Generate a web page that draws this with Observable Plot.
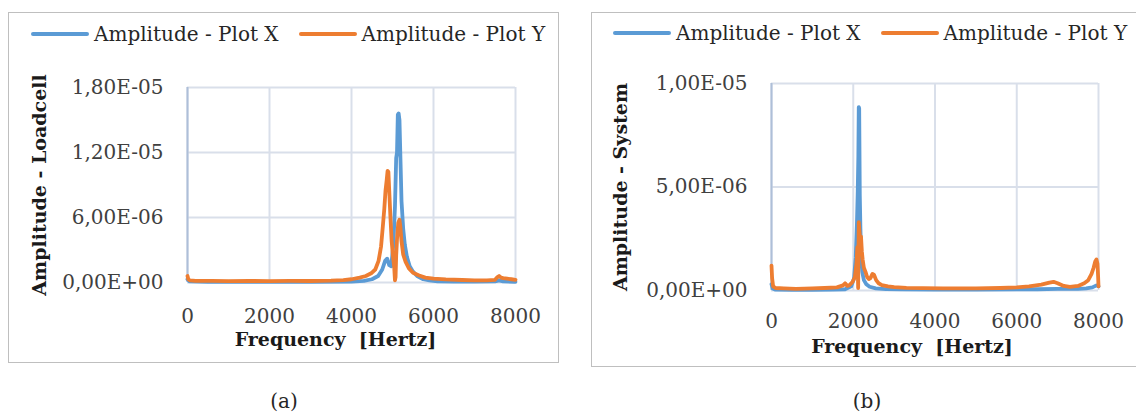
<!DOCTYPE html>
<html>
<head>
<meta charset="utf-8">
<script src="https://cdn.jsdelivr.net/npm/d3@7"></script>
<script src="https://cdn.jsdelivr.net/npm/@observablehq/plot@0.6"></script>
<style>
  html, body { margin:0; padding:0; background:#fff; width:1136px; height:413px; overflow:hidden; }
  body { position:relative; font-family:"DejaVu Serif", serif; }
  .panel { position:absolute; border:1px solid #bfbfbf; box-sizing:border-box; }
  .legend { position:absolute; display:flex; align-items:center; font-size:20px; color:#262626; white-space:nowrap; }
  .sw { display:inline-block; width:58px; height:4px; border-radius:2px; margin-right:5px; }
  .gap { display:inline-block; width:20px; }
  .chart { position:absolute; }
  .cap { position:absolute; font-size:20px; line-height:22px; color:#262626; transform:translate(-50%,-50%); }
</style>
</head>
<body>
<div class="panel" style="left:8px;top:12px;width:551px;height:351px"></div>
<div class="panel" style="left:591px;top:12px;width:560px;height:355px"></div>
<div class="legend" id="legA" style="left:31px;top:22px;"></div>
<div class="legend" id="legB" style="left:613px;top:21px;"></div>
<div class="chart" id="chartA" style="left:8px;top:60px;"></div>
<div class="chart" id="chartB" style="left:591px;top:56px;"></div>
<div class="cap" style="left:284px;top:401px;">(a)</div>
<div class="cap" style="left:867px;top:401px;">(b)</div>
<script>
// ---- data ----
const seriesNames = ["Amplitude - Plot X", "Amplitude - Plot Y"];
const seriesColors = ["#5b9bd5", "#ed7d31"];
const xTicks = [0, 2000, 4000, 6000, 8000];
const yTicksA = [0, 6e-6, 1.2e-5, 1.8e-5];
const yTicksB = [0, 5e-6, 1e-5];

// (a) Loadcell
const aXFreq = [0, 50, 500, 1000, 2000, 3000, 4000, 4300, 4500, 4650, 4750, 4820, 4870, 4920, 4970, 5020, 5060, 5090, 5110, 5130, 5150, 5170, 5190, 5220, 5260, 5300, 5350, 5420, 5500, 5600, 5750, 5900, 6100, 6500, 7000, 7500, 7600, 7700, 8000];
const aXAmp  = [3e-7, 1e-7, 5e-8, 5e-8, 5e-8, 5e-8, 8e-8, 1.5e-7, 3e-7, 6e-7, 1.2e-6, 2.0e-6, 2.2e-6, 1.6e-6, 1.5e-6, 3.5e-6, 7e-6, 1.15e-5, 1.2e-5, 1.55e-5, 1.56e-5, 1.5e-5, 1.2e-5, 7.5e-6, 5e-6, 3.5e-6, 2.4e-6, 1.5e-6, 1e-6, 6e-7, 3e-7, 2e-7, 1e-7, 8e-8, 8e-8, 1e-7, 2e-7, 1e-7, 5e-8];
const aYFreq = [0, 20, 60, 200, 600, 1000, 1500, 2000, 2500, 3000, 3500, 3800, 4000, 4200, 4350, 4480, 4580, 4660, 4720, 4760, 4800, 4830, 4860, 4880, 4900, 4920, 4950, 4980, 5010, 5040, 5060, 5075, 5090, 5110, 5140, 5170, 5190, 5220, 5260, 5320, 5400, 5500, 5650, 5800, 6000, 6300, 6700, 7000, 7300, 7500, 7560, 7600, 7650, 7700, 7800, 7900, 8000];
const aYAmp  = [6e-7, 3e-7, 2e-7, 1.5e-7, 1.5e-7, 1.3e-7, 1.4e-7, 1.3e-7, 1.5e-7, 1.4e-7, 1.7e-7, 2.2e-7, 3e-7, 4.5e-7, 6e-7, 8.5e-7, 1.2e-6, 2e-6, 3.3e-6, 5e-6, 6.8e-6, 8.5e-6, 9.5e-6, 1.03e-5, 1.02e-5, 8.5e-6, 6e-6, 3.8e-6, 2.5e-6, 1.5e-6, 2e-7, 5e-7, 2.5e-6, 4e-6, 5.5e-6, 5.8e-6, 5.2e-6, 3.8e-6, 2.6e-6, 1.9e-6, 1.3e-6, 9e-7, 6.5e-7, 4.5e-7, 3.5e-7, 2.8e-7, 2.3e-7, 2e-7, 2e-7, 2.5e-7, 5e-7, 6e-7, 4.5e-7, 4e-7, 3.5e-7, 3e-7, 2.5e-7];

// (b) System
const bXFreq = [0, 30, 100, 500, 1000, 1500, 1800, 1950, 2020, 2060, 2090, 2110, 2125, 2135, 2145, 2160, 2175, 2195, 2220, 2260, 2320, 2400, 2550, 2800, 3200, 4000, 5000, 6000, 6500, 7000, 7500, 7700, 7850, 7950, 8000];
const bXAmp  = [3e-7, 1e-7, 4e-8, 3e-8, 3e-8, 4e-8, 6e-8, 2e-7, 6e-7, 1.6e-6, 3.2e-6, 4.8e-6, 6.5e-6, 8.86e-6, 8.8e-6, 4.6e-6, 3e-6, 1.6e-6, 9e-7, 5e-7, 3e-7, 1.8e-7, 1e-7, 7e-8, 5e-8, 4e-8, 4e-8, 5e-8, 6e-8, 8e-8, 8e-8, 1e-7, 1.5e-7, 2.5e-7, 2e-7];
const bYFreq = [0, 15, 40, 100, 300, 600, 1000, 1300, 1600, 1750, 1800, 1850, 1900, 1980, 2040, 2080, 2100, 2120, 2135, 2150, 2170, 2190, 2210, 2230, 2260, 2300, 2340, 2380, 2420, 2470, 2510, 2560, 2620, 2700, 2850, 3000, 3300, 3700, 4200, 5000, 5600, 6000, 6300, 6600, 6800, 6900, 7000, 7150, 7300, 7500, 7650, 7750, 7830, 7880, 7920, 7950, 7975, 7990, 8000];
const bYAmp  = [1.2e-6, 6e-7, 2e-7, 1.2e-7, 1e-7, 8e-8, 1e-7, 1.2e-7, 1.5e-7, 2.5e-7, 3.5e-7, 2.2e-7, 2.5e-7, 4e-7, 6.5e-7, 1.3e-6, 2.1e-6, 1.2e-7, 3.3e-6, 2.9e-6, 2.4e-6, 2.6e-6, 1.9e-6, 1.5e-6, 1.1e-6, 9e-7, 6.5e-7, 5.5e-7, 6e-7, 8e-7, 7.5e-7, 5e-7, 3.5e-7, 2.6e-7, 2e-7, 1.6e-7, 1.3e-7, 1.1e-7, 1e-7, 1e-7, 1.2e-7, 1.5e-7, 2e-7, 2.8e-7, 3.8e-7, 4.2e-7, 3.5e-7, 2.2e-7, 1.8e-7, 2.2e-7, 3.5e-7, 5e-7, 8e-7, 1.1e-6, 1.4e-6, 1.5e-6, 1.3e-6, 7e-7, 2e-7];

// ---- helpers ----
function fmtSci(v) {
  if (v === 0) return "0,00E+00";
  const [m, e] = v.toExponential(2).split("e");
  const ei = +e;
  return m.replace(".", ",") + "E" + (ei < 0 ? "-" : "+") + String(Math.abs(ei)).padStart(2, "0");
}
function rows(fs, vs) { return fs.map((f, i) => ({f, v: vs[i]})); }

function legend(el) {
  const node = document.getElementById(el);
  seriesNames.forEach((name, i) => {
    if (i > 0) { const g = document.createElement("span"); g.className = "gap"; node.appendChild(g); }
    const sw = document.createElement("span"); sw.className = "sw"; sw.style.background = seriesColors[i]; node.appendChild(sw);
    const t = document.createElement("span"); t.textContent = name; node.appendChild(t);
  });
}
legend("legA"); legend("legB");

function chart(cfg) {
  return Plot.plot({
    width: cfg.width, height: 300,
    marginLeft: cfg.ml, marginRight: cfg.mr, marginTop: 27, marginBottom: cfg.mb,
    style: {fontFamily: "DejaVu Serif", fontSize: "20px", background: "transparent", overflow: "visible"},
    x: {domain: [0, 8000]},
    y: {domain: cfg.yDomain},
    marks: [
      Plot.gridX(xTicks, {stroke: "#d9dfea", strokeOpacity: 1, strokeWidth: 2}),
      Plot.gridY(cfg.yTicks, {stroke: "#d9dfea", strokeOpacity: 1, strokeWidth: 2}),
      Plot.ruleX([0], {stroke: "#aebfd8", strokeWidth: 2}),
      Plot.axisX(xTicks, {tickSize: 0, tickPadding: cfg.xPad, tickFormat: d => String(d), label: null, fill: "#404040", fontSize: 20}),
      Plot.axisY(cfg.yTicks, {tickSize: 0, tickPadding: 24, tickFormat: fmtSci, label: null, fill: "#404040", fontSize: 20}),
      Plot.line(rows(cfg.xf, cfg.xa), {x: "f", y: "v", stroke: seriesColors[0], strokeWidth: 3.8}),
      Plot.line(rows(cfg.yf, cfg.ya), {x: "f", y: "v", stroke: seriesColors[1], strokeWidth: 3.8}),
      Plot.text(["Frequency  [Hertz]"], {frameAnchor: "bottom", dy: cfg.fDy, dx: cfg.fDx, fontWeight: "bold", fontSize: 19, fill: "#1a1a1a"}),
      Plot.text([cfg.yLabel], {frameAnchor: "left", textAnchor: "middle", dx: cfg.yDx, rotate: -90, fontWeight: "bold", fontSize: 19, fill: "#1a1a1a"})
    ]
  });
}

document.getElementById("chartA").appendChild(chart({
  width: 551, ml: 179, mr: 44, mb: 78, yDomain: [0, 1.8e-5], yTicks: yTicksA,
  xPad: 26, fDy: 63, fDx: -16, yDx: -148, yLabel: "Amplitude - Loadcell",
  xf: aXFreq, xa: aXAmp, yf: aYFreq, ya: aYAmp
}));
document.getElementById("chartB").appendChild(chart({
  width: 545, ml: 180, mr: 38, mb: 66, yDomain: [0, 1e-5], yTicks: yTicksB,
  xPad: 23, fDy: 62, fDx: -23, yDx: -151, yLabel: "Amplitude - System",
  xf: bXFreq, xa: bXAmp, yf: bYFreq, ya: bYAmp
}));
</script>
</body>
</html>
